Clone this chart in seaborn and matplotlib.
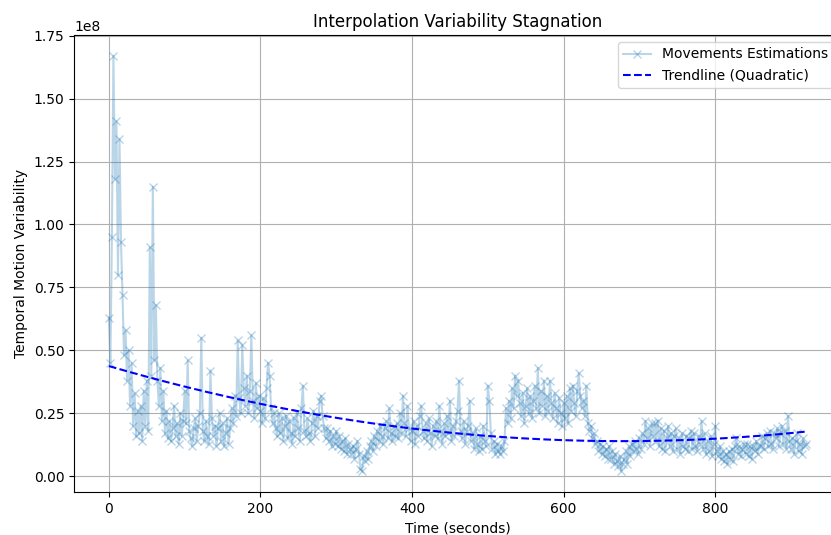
import numpy as np
import pandas as pd
import matplotlib
matplotlib.use("Agg")
import matplotlib.pyplot as plt
import seaborn as sns

# time axis (seconds)
time_s = list(range(0, 921, 2))

# estimated variability values, in millions (x1e6)
variability_m = [
    63, 45, 95, 167, 118, 141, 80, 134, 93, 72,
    48, 58, 38, 50, 28, 45, 20, 33, 16, 26,
    17, 28, 14, 34, 20, 38, 18, 91, 40, 115,
    46, 68, 38, 28, 43, 22, 34, 17, 26, 15,
    22, 14, 19, 28, 16, 21, 13, 25, 16, 22,
    34, 21, 46, 18, 15, 12, 19, 23, 14, 20,
    25, 55, 18, 14, 22, 16, 13, 42, 23, 16,
    20, 12, 19, 25, 14, 21, 12, 17, 23, 13,
    19, 27, 21, 32, 24, 54, 31, 25, 52, 35,
    28, 40, 25, 34, 56, 30, 23, 37, 27, 32,
    26, 21, 31, 23, 35, 45, 40, 27, 21, 25,
    19, 16, 25, 17, 23, 14, 20, 24, 15, 22,
    17, 13, 23, 16, 25, 19, 14, 27, 36, 18,
    16, 23, 17, 14, 21, 26, 16, 24, 19, 30,
    32, 24, 19, 15, 19, 14, 18, 12, 16, 13,
    18, 12, 16, 11, 14, 10, 15, 9, 13, 11,
    9, 12, 7, 11, 14, 9, 3, 2, 8, 6,
    10, 7, 12, 14, 10, 16, 12, 18, 14, 20,
    16, 13, 19, 22, 15, 27, 17, 14, 20, 16,
    21, 15, 25, 17, 32, 21, 16, 28, 19, 14,
    18, 22, 13, 20, 16, 24, 28, 18, 15, 21,
    14, 23, 17, 12, 20, 16, 22, 15, 28, 18,
    13, 21, 16, 24, 17, 30, 14, 20, 16, 22,
    26, 38, 18, 15, 22, 13, 18, 20, 30, 14,
    17, 11, 19, 13, 10, 16, 11, 20, 14, 12,
    36, 30, 17, 11, 14, 9, 13, 10, 9, 12,
    10, 14, 27, 21, 30, 23, 35, 27, 40, 32,
    38, 29, 24, 33, 21, 28, 35, 25, 32, 23,
    30, 36, 27, 43, 25, 34, 28, 38, 24, 32,
    26, 38, 29, 23, 33, 27, 21, 31, 25, 20,
    29, 23, 32, 21, 35, 26, 36, 29, 24, 34,
    41, 32, 27, 30, 24, 36, 21, 18, 20, 15,
    17, 13, 14, 10, 13, 9, 12, 8, 11, 7,
    12, 7, 10, 5, 9, 6, 4, 8, 2, 5,
    7, 10, 5, 12, 8, 13, 10, 14, 11, 9,
    15, 11, 17, 13, 22, 15, 19, 12, 21, 16,
    21, 14, 22, 12, 19, 11, 18, 10, 15, 20,
    12, 17, 10, 16, 19, 11, 15, 9, 17, 12,
    11, 16, 10, 15, 18, 11, 17, 12, 10, 16,
    13, 22, 11, 17, 9, 14, 10, 16, 8, 13,
    20, 10, 8, 12, 7, 10, 6, 9, 5, 10,
    7, 11, 6, 12, 15, 9, 12, 8, 11, 13,
    9, 13, 8, 12, 7, 12, 10, 14, 9, 12,
    12, 16, 11, 15, 17, 12, 18, 13, 11, 17,
    15, 19, 12, 17, 20, 13, 18, 11, 24, 14,
    11, 15, 9, 14, 17, 10, 13, 9, 15, 12,
    13,
]

t = np.array(time_s, dtype=float)
v = np.array(variability_m, dtype=float) * 1e6
coef = np.polyfit(t, v, 2)
trend = np.polyval(coef, t)

df = pd.DataFrame({"t": t, "v": v, "trend": trend})

fig = plt.figure(figsize=(8.31, 5.35), dpi=100)
ax = fig.add_axes([74 / 831, 43 / 535, 767 / 831, 457 / 535])

sns.lineplot(data=df, x="t", y="v", ax=ax, marker="x", color="tab:blue",
             alpha=0.3, linewidth=1.5, markersize=6,
             markeredgecolor="tab:blue", markeredgewidth=1.0,
             label="Movements Estimations")
sns.lineplot(data=df, x="t", y="trend", ax=ax, color="blue", linestyle="--",
             linewidth=1.5, label="Trendline (Quadratic)")

ax.set_title("Interpolation Variability Stagnation", fontsize=12)
ax.set_xlabel("Time (seconds)")
ax.set_ylabel("Temporal Motion Variability")
ax.grid(True)
ax.legend(loc="upper right")

fig.savefig("out.png", dpi=100)
